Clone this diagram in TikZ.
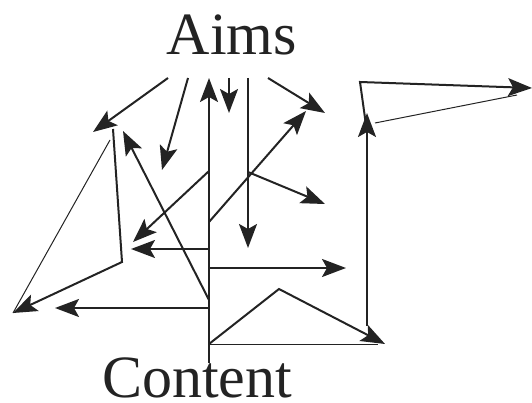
\documentclass[tikz,border=0pt]{standalone}
\usepackage{fontspec}
\setmainfont{Liberation Serif}
\usetikzlibrary{arrows.meta}
\definecolor{ink}{RGB}{35,35,35}
\begin{document}
\begin{tikzpicture}[x=1pt,y=-1pt,
  ar/.style={-{Stealth[length=24pt,width=18pt,inset=5pt]}},
  thk/.style={draw=ink,line width=2pt},
  thn/.style={draw=ink,line width=1pt},
  lbl/.style={font=\fontsize{60}{60}\selectfont,text=ink,inner sep=0pt,anchor=base,text depth=0pt}]
\useasboundingbox (0,0) rectangle (532,403);
\node[lbl] (aims) at (232,55) {Aims};
\node[lbl] (content) at (197,397) {Content};
% coordinates
\coordinate (a1s) at (168,78); \coordinate (a1e) at (93,132);
\coordinate (a2s) at (188,78); \coordinate (a2e) at (162,170);
\coordinate (a3s) at (229,78); \coordinate (a3e) at (229,113);
\coordinate (a4s) at (248,78); \coordinate (a4e) at (248,248);
\coordinate (a5s) at (268,78); \coordinate (a5e) at (325,113);
\coordinate (vb) at (209,363); \coordinate (vt) at (209,78);
\coordinate (d1s) at (209,222); \coordinate (d1e) at (306,111);
\coordinate (d2s) at (248,172); \coordinate (d2e) at (325,204);
\coordinate (d3s) at (209,171); \coordinate (d3e) at (133,242);
\coordinate (h1s) at (209,249); \coordinate (h1e) at (131,249);
\coordinate (d4s) at (209,300); \coordinate (d4e) at (123,131);
\coordinate (p1) at (113,129); \coordinate (p2) at (122,262);
\coordinate (p3) at (13,313); \coordinate (p4) at (110,140);
\coordinate (h2s) at (209,308); \coordinate (h2e) at (55,308);
\coordinate (h3s) at (209,268); \coordinate (h3e) at (346,268);
\coordinate (z0) at (209,344); \coordinate (z1) at (279,289);
\coordinate (z2) at (385,344); \coordinate (zb) at (378,344);
\coordinate (r0) at (367,326); \coordinate (r1) at (367,113);
\coordinate (r5) at (366,125); \coordinate (r2) at (360,82);
\coordinate (r6) at (532,88);
\coordinate (r3) at (517,95); \coordinate (r4) at (375,123);
% connectors
\draw[thk,ar] (a1s) -- (a1e);
\draw[thk,ar] (a2s) -- (a2e);
\draw[thk,ar] (a3s) -- (a3e);
\draw[thk,ar] (a4s) -- (a4e);
\draw[thk,ar] (a5s) -- (a5e);
\draw[thk,ar] (vb) -- (vt);
\draw[thk,ar] (d1s) -- (d1e);
\draw[thk,ar] (d2s) -- (d2e);
\draw[thk,ar] (d3s) -- (d3e);
\draw[thk,ar] (h1s) -- (h1e);
\draw[thk,ar] (d4s) -- (d4e);
\draw[thk,ar] (p1) -- (p2) -- (p3);
\draw[thn] (p4) -- (p3);
\draw[thk,ar] (h2s) -- (h2e);
\draw[thk,ar] (h3s) -- (h3e);
\draw[thk,ar] (z0) -- (z1) -- (z2);
\draw[thn] (z0) -- (zb);
\draw[thk,ar] (r0) -- (r1);
\draw[thk,ar] (r5) -- (r2) -- (r6);
\draw[thn] (r3) -- (r4);
\end{tikzpicture}
\end{document}
